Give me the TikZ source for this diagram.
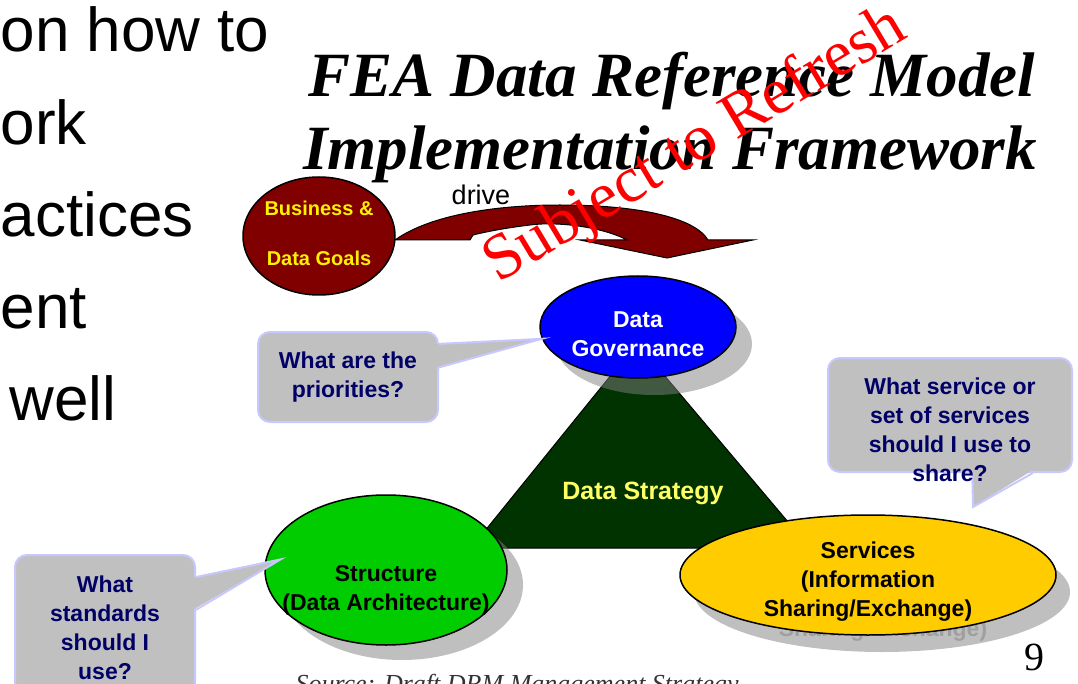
\documentclass[tikz,border=0pt]{standalone}
\usepackage{fontspec}
\setmainfont{Liberation Sans}
\newfontfamily\timesfont{Liberation Serif}
\usetikzlibrary{shapes.geometric}

\definecolor{goalred}{HTML}{800000}
\definecolor{govblue}{HTML}{0000FF}
\definecolor{archgreen}{HTML}{00CC00}
\definecolor{servyellow}{HTML}{FFCC00}
\definecolor{stratgreen}{HTML}{003300}
\definecolor{stratyellow}{HTML}{FFFF66}
\definecolor{askgray}{HTML}{C0C0C0}
\definecolor{askrim}{HTML}{C8C8FF}
\definecolor{asknavy}{HTML}{000066}

\tikzset{
  blob/.style={ellipse, draw=black, line width=1.5pt, inner sep=0pt},
  blobtext/.style={align=center, font=\bfseries\fontsize{23}{29}\selectfont},
  castshadow/.style={fill=gray, opacity=.5},
  askbox/.style={rectangle, rounded corners=12pt, fill=askgray, draw=askrim, line width=2pt,
    inner sep=0pt, text=asknavy, align=center, font=\bfseries\fontsize{23}{29}\selectfont},
  askline/.style={draw=askrim, line width=2pt},
  slide/.style={anchor=base west, font=\fontsize{62}{70}\selectfont},
  headline/.style={anchor=base, font=\timesfont\bfseries\itshape\fontsize{63}{70}\selectfont},
}

\begin{document}
\begin{tikzpicture}[x=1pt, y=-1pt]
\useasboundingbox (0,0) rectangle (1078,684);
\clip (0,0) rectangle (1078,684);

% slide text cut off on the left
\foreach \x/\y/\w [count=\i] in {-3/52/on how to, -3/145/ork, -3/237/actices, -3/328/ent, 6/420/well}
  \node[slide] (frag\i) at (\x,\y) {\w};

% title
\node[headline] (title1) at (672,97) {FEA Data Reference Model};
\node[headline] (title2) at (670,170) {Implementation Framework};

% drive arrow
\filldraw[fill=goalred, draw=black, line width=1pt]
  (395,240) .. controls (430,215) and (495,205) .. (560,205)
  .. controls (640,205) and (695,218) .. (708,240) -- (753,240) -- (667,258) -- (580,240) -- (627,240)
  .. controls (605,228) and (560,221) .. (530,225)
  .. controls (505,228) and (485,232) .. (473,235) -- (470,240) -- cycle;
\node[blob, fill=goalred, minimum width=152pt, minimum height=118pt] (goals) at (319,236) {};
\node[font=\bfseries\fontsize{20}{50}\selectfont, text=yellow, align=center] (goalstext)
  at ([yshift=3pt]goals.center) {Business \&\\Data Goals};
\node[anchor=base, font=\fontsize{27}{30}\selectfont] (drive) at (481,205) {drive};

% strategy triangle
\filldraw[fill=stratgreen, draw=black, line width=1pt] (637,343) -- (810,548) -- (471,548) -- cycle;

% governance
\fill[castshadow] (654,344) ellipse [x radius=98, y radius=51];
\node[blob, fill=govblue, minimum width=196pt, minimum height=102pt] (gov) at (638,327) {};
\node[blobtext, text=white] (govtext) at ([yshift=-7pt]gov.center) {Data\\Governance};
\node[font=\bfseries\fontsize{25}{30}\selectfont, text=stratyellow] (strat) at (643,493) {Data Strategy};

% structure
\fill[castshadow] (402,585) ellipse [x radius=121, y radius=75];
\node[blob, fill=archgreen, minimum width=242pt, minimum height=150pt] (arch) at (386,570) {};
\node[blobtext] (archtext) at ([yshift=-20pt]arch.center) {Structure\\(Data Architecture)};

% services
\fill[castshadow] (882,592) ellipse [x radius=188, y radius=60];
\node[blobtext, text=gray, opacity=.5] (servghost) at (883,602) {Services\\(Information\\Sharing/Exchange)};
\node[blob, fill=servyellow, minimum width=376pt, minimum height=120pt] (serv) at (868,575) {};
\node[blobtext] (servtext) at ([yshift=-7pt]serv.center) {Services\\(Information\\Sharing/Exchange)};

% callouts
\node[askbox, minimum width=180pt, minimum height=90pt] (askprio) at (348,377) {What are the\\priorities?};
\coordinate (tipprio) at (gov.187);
\fill[askgray] ([xshift=-3pt]askprio.20) -- (tipprio) -- ([xshift=-3pt]askprio.6) -- cycle;
\draw[askline] (askprio.20) -- (tipprio) -- (askprio.6);

\node[askbox, minimum width=180pt, minimum height=145pt] (askstd) at (105,627.5) {What\\standards\\should I\\use?};
\coordinate (tipstd) at ([xshift=15pt]arch.175);
\fill[askgray] ([xshift=-3pt]askstd.29) -- (tipstd) -- ([xshift=-3pt]askstd.11) -- cycle;
\draw[askline] (askstd.29) -- (tipstd) -- (askstd.11);

\node[askbox, minimum width=244pt, minimum height=114pt] (askserv) at (950,415) {};
\coordinate (tipserv) at (973,507);
\fill[askgray] ([yshift=3pt]askserv.291) -- (tipserv) -- ([yshift=3pt]askserv.325) -- cycle;
\draw[askline] (askserv.291) -- (tipserv) -- (askserv.325);
\node[text=asknavy, align=center, font=\bfseries\fontsize{23}{29}\selectfont] (servq) at (950,430)
  {What service or\\set of services\\should I use to\\share?};

% watermark
\node[rotate=31, anchor=base, text=red, font=\timesfont\fontsize{65}{70}\selectfont] (refresh) at (704,160) {Subject to Refresh};

% page number and source
\node[anchor=base, font=\timesfont\fontsize{40}{44}\selectfont] (pagenum) at (1034,670) {9};
\node[anchor=base west, text=black!80, font=\timesfont\itshape\fontsize{26}{30}\selectfont] (source) at (292,692)
  {Source: Draft DRM Management Strategy};
\end{tikzpicture}
\end{document}
